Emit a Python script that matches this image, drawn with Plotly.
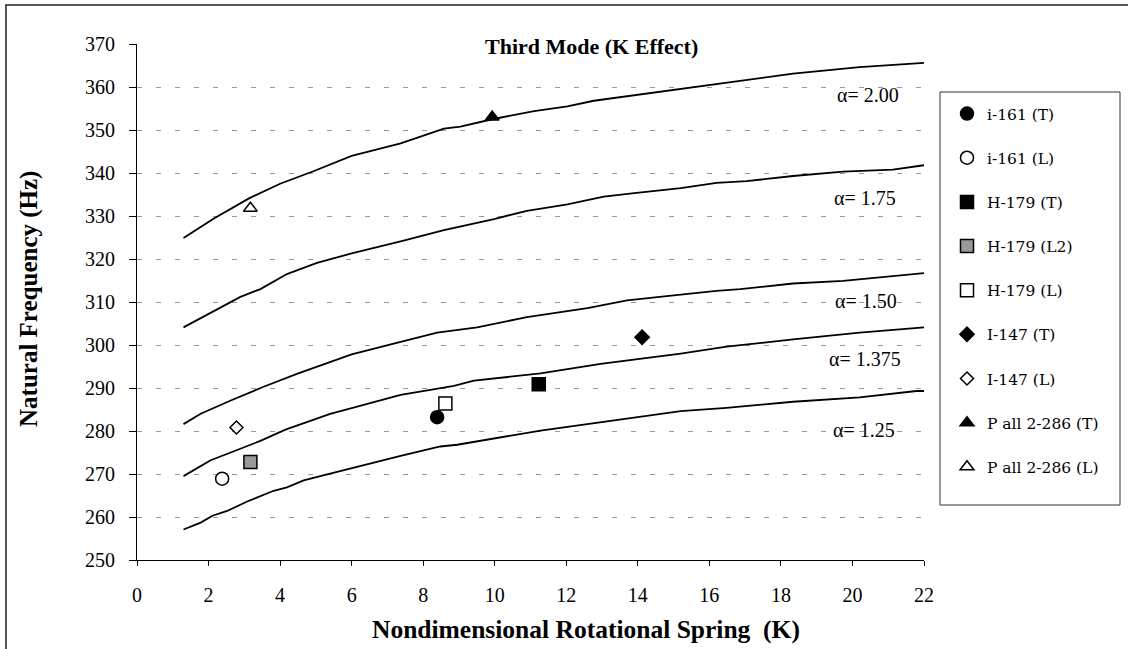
import plotly.graph_objects as go

# ---------------- data ----------------
k_a200 = [1.30, 2.15, 3.13, 4.0, 4.93, 6.0, 7.37, 8.58, 9.04, 9.93, 11.1, 12.03, 12.77, 13.9, 15.2, 16.48, 18.34, 20.2, 22.0]
f_a200 = [324.9, 329.4, 334.1, 337.5, 340.4, 344.0, 346.9, 350.3, 350.8, 352.5, 354.4, 355.5, 356.8, 358.1, 359.5, 361.0, 363.1, 364.6, 365.6]

k_a175 = [1.30, 2.24, 2.89, 3.45, 4.19, 5.03, 6.0, 7.37, 8.58, 9.98, 10.9, 12.03, 13.05, 13.9, 15.2, 16.2, 17.04, 18.34, 19.74, 21.13, 22.0]
f_a175 = [304.1, 308.2, 311.2, 313.0, 316.5, 319.1, 321.3, 324.1, 326.7, 329.3, 331.2, 332.7, 334.5, 335.3, 336.5, 337.7, 338.1, 339.3, 340.3, 340.8, 341.8]

k_a150 = [1.30, 1.78, 2.62, 3.54, 4.47, 5.4, 6.0, 7.37, 8.39, 9.51, 10.9, 12.59, 13.7, 15.2, 16.2, 16.86, 18.34, 19.74, 22.0]
f_a150 = [281.6, 284.0, 287.1, 290.3, 293.3, 296.0, 297.8, 300.7, 302.9, 304.1, 306.5, 308.6, 310.4, 311.7, 312.6, 313.0, 314.3, 314.9, 316.7]

k_a1375 = [1.30, 2.06, 2.62, 3.45, 4.15, 5.4, 6.0, 7.37, 8.86, 9.42, 11.28, 12.96, 15.2, 16.48, 18.34, 20.2, 22.0]
f_a1375 = [269.5, 273.2, 275.0, 277.7, 280.3, 284.0, 285.3, 288.4, 290.5, 291.7, 293.4, 295.6, 298.0, 299.6, 301.3, 302.9, 304.1]

k_a125 = [1.30, 1.78, 2.11, 2.52, 3.08, 3.82, 4.19, 4.66, 5.4, 6.0, 7.37, 8.48, 8.95, 11.28, 12.96, 15.2, 16.48, 18.34, 20.2, 21.5, 21.79, 22.0]
f_a125 = [257.1, 258.7, 260.3, 261.4, 263.6, 266.1, 266.9, 268.5, 270.1, 271.4, 274.2, 276.4, 276.8, 280.1, 282.0, 284.6, 285.4, 286.8, 287.8, 289.0, 289.3, 289.3]

curve_labels = ["α= 2.00", "α= 1.75", "α= 1.50", "α= 1.375", "α= 1.25"]
curve_label_k = [20.44, 20.34, 20.39, 20.34, 20.31]
curve_label_f = [358.1, 334.3, 310.2, 296.8, 280.3]

exp_names = ["i-161 (T)", "i-161 (L)", "H-179 (T)", "H-179 (L2)", "H-179 (L)",
             "I-147 (T)", "I-147 (L)", "P all 2-286 (T)", "P all 2-286 (L)"]
exp_k = [8.39, 2.38, 11.23, 3.17, 8.62, 14.12, 2.78, 9.93, 3.17]
exp_f = [283.2, 268.9, 290.9, 272.8, 286.4, 301.8, 280.8, 353.0, 331.8]

x_ticks = list(range(0, 23, 2))
y_ticks = list(range(250, 371, 10))

# ---------------- styles ----------------
exp_symbols = ["circle", "circle", "square", "square", "square", "diamond", "diamond", "triangle-up", "triangle-up"]
exp_fill = ["black", "white", "black", "#999999", "white", "black", "white", "black", "white"]
exp_size = [13, 13, 13, 13, 13, 11, 10, 12, 12]

FONT = "Liberation Serif, Times New Roman, serif"
LEGFONT = "DejaVu Serif, serif"

W, H = 1128, 649
ML, MR, MT, MB = 137, 204, 44, 89
PW = W - ML - MR
PH = H - MT - MB


def px_x(px):
    return (px - ML) / PW


def px_y(py):
    return (H - MB - py) / PH


fig = go.Figure()

for k, f in [(k_a200, f_a200), (k_a175, f_a175), (k_a150, f_a150), (k_a1375, f_a1375), (k_a125, f_a125)]:
    fig.add_trace(go.Scatter(x=k, y=f, mode="lines", line=dict(color="black", width=1.8),
                             showlegend=False, hoverinfo="skip"))

for i, name in enumerate(exp_names):
    fig.add_trace(go.Scatter(
        x=[exp_k[i]], y=[exp_f[i]], mode="markers", name=name, legendgroup=name,
        marker=dict(symbol=exp_symbols[i], size=exp_size[i], color=exp_fill[i],
                    line=dict(color="black", width=1.5))))

annotations = []
for t, k, f in zip(curve_labels, curve_label_k, curve_label_f):
    annotations.append(dict(x=k, y=f, xref="x", yref="y", text=t, showarrow=False,
                            xanchor="center", yanchor="middle",
                            font=dict(family=FONT, size=20, color="black")))

annotations.append(dict(x=px_x(591), y=px_y(46), xref="paper", yref="paper",
                        text="<b>Third Mode (K Effect)</b>", showarrow=False,
                        xanchor="center", yanchor="middle",
                        font=dict(family=FONT, size=22, color="black")))
annotations.append(dict(x=px_x(29), y=px_y(299), xref="paper", yref="paper",
                        text="<b>Natural Frequency (Hz)</b>", showarrow=False, textangle=-90,
                        xanchor="center", yanchor="middle",
                        font=dict(family=FONT, size=25, color="black")))
annotations.append(dict(x=px_x(586), y=px_y(629), xref="paper", yref="paper",
                        text="<b>Nondimensional Rotational Spring  (K)</b>", showarrow=False,
                        xanchor="center", yanchor="middle",
                        font=dict(family=FONT, size=25.5, color="black")))

shapes = [
    # outer chart frame
    dict(type="rect", xref="paper", yref="paper", x0=px_x(6), x1=px_x(1140), y0=px_y(5), y1=px_y(660),
         line=dict(color="#222222", width=1.5), fillcolor="rgba(0,0,0,0)", layer="below"),
    # legend frame
    dict(type="rect", xref="paper", yref="paper", x0=px_x(940), x1=px_x(1120), y0=px_y(92), y1=px_y(505),
         line=dict(color="#333333", width=1), fillcolor="white", layer="below"),
]

fig.update_layout(
    width=W, height=H, autosize=False,
    margin=dict(l=ML, r=MR, t=MT, b=MB, pad=0),
    paper_bgcolor="white", plot_bgcolor="white",
    font=dict(family=FONT, color="black"),
    showlegend=True,
    legend=dict(x=px_x(947), y=px_y(97), xanchor="left", yanchor="top",
                bgcolor="rgba(0,0,0,0)", borderwidth=0, traceorder="grouped",
                tracegroupgap=21, font=dict(family=LEGFONT, size=15.5, color="black")),
    annotations=annotations,
    shapes=shapes,
    xaxis=dict(range=[0, 22], tickvals=x_ticks, ticks="outside", ticklen=5, tickcolor="black",
               showline=True, linecolor="black", linewidth=1, showgrid=False, zeroline=False,
               tickfont=dict(family=FONT, size=20, color="black"), ticklabelstandoff=12),
    yaxis=dict(range=[250, 370], tickvals=y_ticks, ticks="outside", ticklen=7, tickcolor="black",
               showline=True, linecolor="black", linewidth=1, showgrid=True, gridcolor="#999999",
               gridwidth=1, griddash="5px,14px", zeroline=False,
               tickfont=dict(family=FONT, size=20, color="black"), ticklabelstandoff=10),
)

fig.write_html("out.html")
